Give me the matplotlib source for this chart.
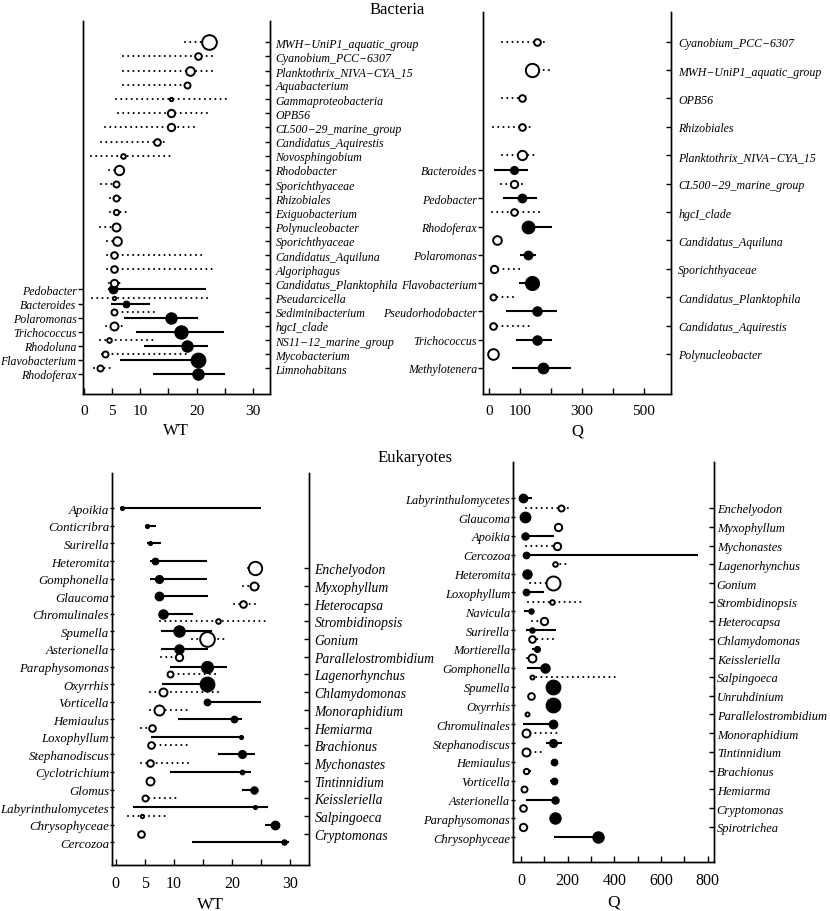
# -*- coding: utf-8 -*-
import numpy as np
import matplotlib
matplotlib.use("Agg")
import matplotlib.pyplot as plt

plt.rcParams['font.family'] = ['Liberation Serif', 'DejaVu Serif']

# ---------------- Bacteria, WT ----------------
bw_pos_names = ["MWH−UniP1_aquatic_group", "Cyanobium_PCC−6307", "Planktothrix_NIVA−CYA_15",
                "Aquabacterium", "Gammaproteobacteria", "OPB56", "CL500−29_marine_group",
                "Candidatus_Aquirestis", "Novosphingobium", "Rhodobacter", "Sporichthyaceae",
                "Rhizobiales", "Exiguobacterium", "Polynucleobacter", "Sporichthyaceae",
                "Candidatus_Aquiluna", "Algoriphagus", "Candidatus_Planktophila", "Pseudarcicella",
                "Sediminibacterium", "hgcI_clade", "NS11−12_marine_group", "Mycobacterium",
                "Limnohabitans"]
bw_pos_cp = [22.2, 20.2, 18.8, 18.2, 15.5, 15.5, 15.5, 13.0, 6.9, 6.3, 5.7, 5.7,
             5.7, 5.7, 5.8, 5.4, 5.4, 5.4, 5.4, 5.4, 5.4, 4.4, 3.8, 2.9]
bw_pos_q05 = [18.0, 6.9, 6.9, 6.9, 5.7, 6.0, 3.8, 3.05, 1.3, 4.5, 3.05, 4.6,
              4.6, 2.9, 4.1, 4.1, 4.1, 4.5, 1.4, 5.0, 3.9, 2.9, 3.3, 1.8]
bw_pos_q95 = [23.0, 23.0, 23.0, 18.9, 26.0, 22.2, 19.8, 14.8, 15.4, 6.8, 6.2, 6.8,
              7.8, 6.2, 6.3, 21.3, 23.3, 6.5, 22.7, 12.5, 7.05, 12.75, 18.9, 4.8]
bw_pos_z = [22, 10, 13, 9, 5, 11, 11, 10, 7, 14, 9, 9, 8, 12, 13, 10, 10, 11, 5, 9, 12, 7, 9, 9]

bw_neg_names = ["Pedobacter", "Bacteroides", "Polaromonas", "Trichococcus", "Rhodoluna",
                "Flavobacterium", "Rhodoferax"]
bw_neg_cp = [5.2, 7.5, 15.5, 17.3, 18.3, 20.2, 20.2]
bw_neg_q05 = [4.3, 4.8, 7.2, 9.2, 10.7, 6.5, 12.2]
bw_neg_q95 = [21.6, 11.7, 20.3, 24.8, 22.0, 20.7, 25.1]
bw_neg_z = [13, 10, 17, 20, 17, 22, 17]

# ---------------- Bacteria, Q ----------------
bq_pos_names = ["Cyanobium_PCC−6307", "MWH−UniP1_aquatic_group", "OPB56", "Rhizobiales",
                "Planktothrix_NIVA−CYA_15", "CL500−29_marine_group", "hgcI_clade",
                "Candidatus_Aquiluna", "Sporichthyaceae", "Candidatus_Planktophila",
                "Candidatus_Aquirestis", "Polynucleobacter"]
bq_pos_cp = [154, 140, 108, 106, 106, 81, 81, 25, 17, 14, 14, 14]
bq_pos_q05 = [43, 125, 43, 14, 41, 39, 9, 20, 12, 10, 10, 10]
bq_pos_q95 = [187, 203, 115, 133, 160, 116, 165, 52, 108, 93, 133, 20]
bq_pos_z = [10, 20, 10, 10, 14, 11, 10, 13, 11, 9, 10, 16]

bq_neg_names = ["Bacteroides", "Pedobacter", "Rhodoferax", "Polaromonas", "Flavobacterium",
                "Pseudorhodobacter", "Trichococcus", "Methylotenera"]
bq_neg_cp = [81, 106, 127, 127, 140, 154, 154, 176]
bq_neg_q05 = [16, 46, 115, 100, 98, 55, 87, 75]
bq_neg_q95 = [127, 156, 203, 151, 145, 221, 205, 264]
bq_neg_z = [12, 13, 19, 13, 21, 14, 14, 16]

# ---------------- Eukaryotes, WT ----------------
ew_neg_names = ["Apoikia", "Conticribra", "Surirella", "Heteromita", "Gomphonella", "Glaucoma",
                "Chromulinales", "Spumella", "Asterionella", "Paraphysomonas", "Oxyrrhis",
                "Vorticella", "Hemiaulus", "Loxophyllum", "Stephanodiscus", "Cyclotrichium",
                "Glomus", "Labyrinthulomycetes", "Chrysophyceae", "Cercozoa"]
ew_neg_cp = [1.0, 5.4, 5.8, 6.8, 7.4, 7.4, 8.1, 10.9, 10.8, 15.7, 15.7, 15.7,
             20.3, 21.6, 21.7, 21.7, 23.7, 23.9, 27.3, 28.9]
ew_neg_q05 = [0.8, 5.2, 5.3, 5.8, 5.8, 7.0, 7.8, 7.7, 7.7, 9.3, 7.95, 15.5,
              10.7, 6.1, 17.6, 9.4, 21.7, 3.0, 25.6, 13.1]
ew_neg_q95 = [24.9, 6.9, 7.7, 15.6, 15.6, 15.8, 13.2, 16.6, 15.8, 19.1, 16.0, 24.9,
              21.7, 21.8, 23.9, 23.3, 24.2, 26.2, 27.6, 29.8]
ew_neg_z = [6, 6, 6, 10, 12, 13, 14, 17, 14, 18, 22, 10, 10, 6, 12, 7, 11, 6, 13, 8]

ew_pos_names = ["Enchelyodon", "Myxophyllum", "Heterocapsa", "Strombidinopsis", "Gonium",
                "Parallelostrombidium", "Lagenorhynchus", "Chlamydomonas", "Monoraphidium",
                "Hemiarma", "Brachionus", "Mychonastes", "Tintinnidium", "Keissleriella",
                "Salpingoeca", "Cryptomonas"]
ew_pos_cp = [23.9, 23.8, 21.9, 17.6, 15.7, 10.8, 9.4, 8.1, 7.4, 6.2, 6.1, 5.8, 5.8, 5.0, 4.5, 4.3]
ew_pos_q05 = [22.7, 21.9, 20.3, 7.6, 13.1, 7.8, 9.0, 5.8, 5.8, 4.3, 5.8, 4.3, 5.5, 4.8, 2.1, 4.0]
ew_pos_q95 = [25.3, 25.0, 24.6, 26.2, 18.7, 12.1, 17.2, 17.9, 12.4, 6.5, 12.4, 13.1, 6.0, 10.9, 8.8, 5.1]
ew_pos_z = [20, 12, 10, 7, 22, 11, 9, 12, 15, 10, 10, 10, 12, 9, 5, 10]

# ---------------- Eukaryotes, Q ----------------
eq_neg_names = ["Labyrinthulomycetes", "Glaucoma", "Apoikia", "Cercozoa", "Heteromita",
                "Loxophyllum", "Navicula", "Surirella", "Mortierella", "Gomphonella", "Spumella",
                "Oxyrrhis", "Chromulinales", "Stephanodiscus", "Hemiaulus", "Vorticella",
                "Asterionella", "Paraphysomonas", "Chrysophyceae"]
eq_neg_cp = [10, 17, 17, 21, 24, 21, 43, 46, 70, 103, 138, 138, 138, 138, 141, 141, 146, 146, 331]
eq_neg_q05 = [8, 15, 15, 19, 22, 19, 14, 21, 48, 24, 136, 136, 10, 106, 138, 125, 20, 144, 143]
eq_neg_q95 = [48, 19, 141, 760, 26, 99, 45, 149, 72, 124, 140, 140, 140, 174, 143, 160, 148, 148, 333]
eq_neg_z = [13, 16, 11, 10, 14, 10, 8, 8, 9, 14, 22, 22, 13, 12, 10, 10, 11, 17, 17]

eq_pos_names = ["Enchelyodon", "Myxophyllum", "Mychonastes", "Lagenorhynchus", "Gonium",
                "Strombidinopsis", "Heterocapsa", "Chlamydomonas", "Keissleriella", "Salpingoeca",
                "Unruhdinium", "Parallelostrombidium", "Monoraphidium", "Tintinnidium",
                "Brachionus", "Hemiarma", "Cryptomonas", "Spirotrichea"]
eq_pos_cp = [171, 160, 153, 146, 136, 134, 100, 48, 46, 46, 43, 27, 21, 21, 21, 13, 10, 7]
eq_pos_q05 = [20, 158, 20, 144, 39, 31, 46, 45, 24, 44, 41, 25, 19, 19, 19, 11, 8, 5]
eq_pos_q95 = [217, 162, 155, 196, 138, 260, 131, 138, 48, 407, 45, 29, 163, 96, 48, 15, 12, 39]
eq_pos_z = [9, 11, 11, 7, 21, 7, 11, 10, 12, 6, 10, 6, 12, 12, 8, 9, 10, 11]

W, H = 830, 912
fig = plt.figure(figsize=(W / 100, H / 100), dpi=100)


def rows(first, last, n):
    return np.linspace(first, last, n)


def panel(box, xlim, xticks, xlabels, xlab, neg, pos, neg_rows, pos_rows, fs, fs_r, tfs,
          rpad=4, ldir='out', lpad=1):
    x0, y0, x1, y1 = box
    ax = fig.add_axes([x0 / W, 1 - y1 / H, (x1 - x0) / W, (y1 - y0) / H])
    ax2 = ax.twinx()
    for a in (ax, ax2):
        a.set_ylim(y1, y0)
        a.spines['top'].set_visible(False)
        for s in ('left', 'right', 'bottom'):
            a.spines[s].set_linewidth(1.0)
    ax.set_xlim(*xlim)
    k = 0.48  # circle radius in the 3x zoom -> marker diameter in points

    # z- taxa: filled circles, solid 5-95% lines, labels on the left
    names, cp, q05, q95, z = neg
    y = rows(neg_rows[0], neg_rows[1], len(names))
    ax.hlines(y, q05, q95, color='black', lw=1.5, zorder=2)
    for yi, c, zi in zip(y, cp, z):
        ax.plot(c, yi, 'o', ms=zi * k, mfc='black', mec='black', mew=0.8, zorder=3)
    ax.set_yticks(y, names, fontstyle='italic', fontsize=fs)

    # z+ taxa: open circles, dotted lines, labels on the right
    names, cp, q05, q95, z = pos
    y2 = rows(pos_rows[0], pos_rows[1], len(names))
    ax2.hlines(y2, q05, q95, color='black', lw=1.5, linestyles=[(0, (0.01, 2.5))],
               capstyle='round', zorder=2)
    for yi, c, zi in zip(y2, cp, z):
        ax2.plot(c, yi, 'o', ms=zi * k, mfc='white', mec='black', mew=1.4, zorder=3)
    ax2.set_yticks(y2, names, fontstyle='italic', fontsize=fs_r)

    ax.tick_params(axis='y', direction=ldir, length=3.5, width=1.0, pad=lpad)
    ax2.tick_params(axis='y', direction='in', length=3.5, width=1.0, pad=rpad)
    ax.set_xticks(xticks, xlabels, fontsize=tfs)
    ax.tick_params(axis='x', direction='in', length=4, width=1.0, pad=7)
    ax.set_xlabel(xlab, fontsize=tfs + 1, labelpad=4)
    return ax


panel((82.7, 21.7, 270, 395), (-0.2, 33.0), [0, 5, 10, 15, 20, 25, 30],
      ['0', '5', '10', '', '20', '', '30'], 'WT',
      (bw_neg_names, bw_neg_cp, bw_neg_q05, bw_neg_q95, bw_neg_z),
      (bw_pos_names, bw_pos_cp, bw_pos_q05, bw_pos_q95, bw_pos_z),
      (290.5, 375), (43.3, 369.5), 8.6, 8.6, 11)

panel((483.3, 13.3, 670.5, 395), (-18, 586), [0, 100, 200, 300, 400, 500],
      ['0', '100', '', '300', '', '500'], 'Q',
      (bq_neg_names, bq_neg_cp, bq_neg_q05, bq_neg_q95, bq_neg_z),
      (bq_pos_names, bq_pos_cp, bq_pos_q05, bq_pos_q95, bq_pos_z),
      (171, 369), (42.7, 355), 8.6, 8.6, 11, rpad=5.5)

panel((112.3, 474, 309, 866), (-0.6, 33.2), [0, 5, 10, 15, 20, 25, 30],
      ['0', '5', '10', '', '20', '', '30'], 'WT',
      (ew_neg_names, ew_neg_cp, ew_neg_q05, ew_neg_q95, ew_neg_z),
      (ew_pos_names, ew_pos_cp, ew_pos_q05, ew_pos_q95, ew_pos_z),
      (509.3, 843.3), (569.3, 834.7), 9.3, 9.8, 11.5, ldir='inout', lpad=0.5)

panel((513.3, 463, 714, 863.3), (-33, 827), [0, 100, 200, 300, 400, 500, 600, 700, 800],
      ['0', '', '200', '', '400', '', '600', '', '800'], 'Q',
      (eq_neg_names, eq_neg_cp, eq_neg_q05, eq_neg_q95, eq_neg_z),
      (eq_pos_names, eq_pos_cp, eq_pos_q05, eq_pos_q95, eq_pos_z),
      (499.3, 838.3), (509, 828), 9.0, 9.0, 11.5, rpad=2, ldir='inout', lpad=0.5)

fig.text(397 / W, 1 - 10 / H, 'Bacteria', ha='center', va='center', fontsize=12)
fig.text(415 / W, 1 - 458 / H, 'Eukaryotes', ha='center', va='center', fontsize=12)

fig.savefig('out.png', dpi=100)
